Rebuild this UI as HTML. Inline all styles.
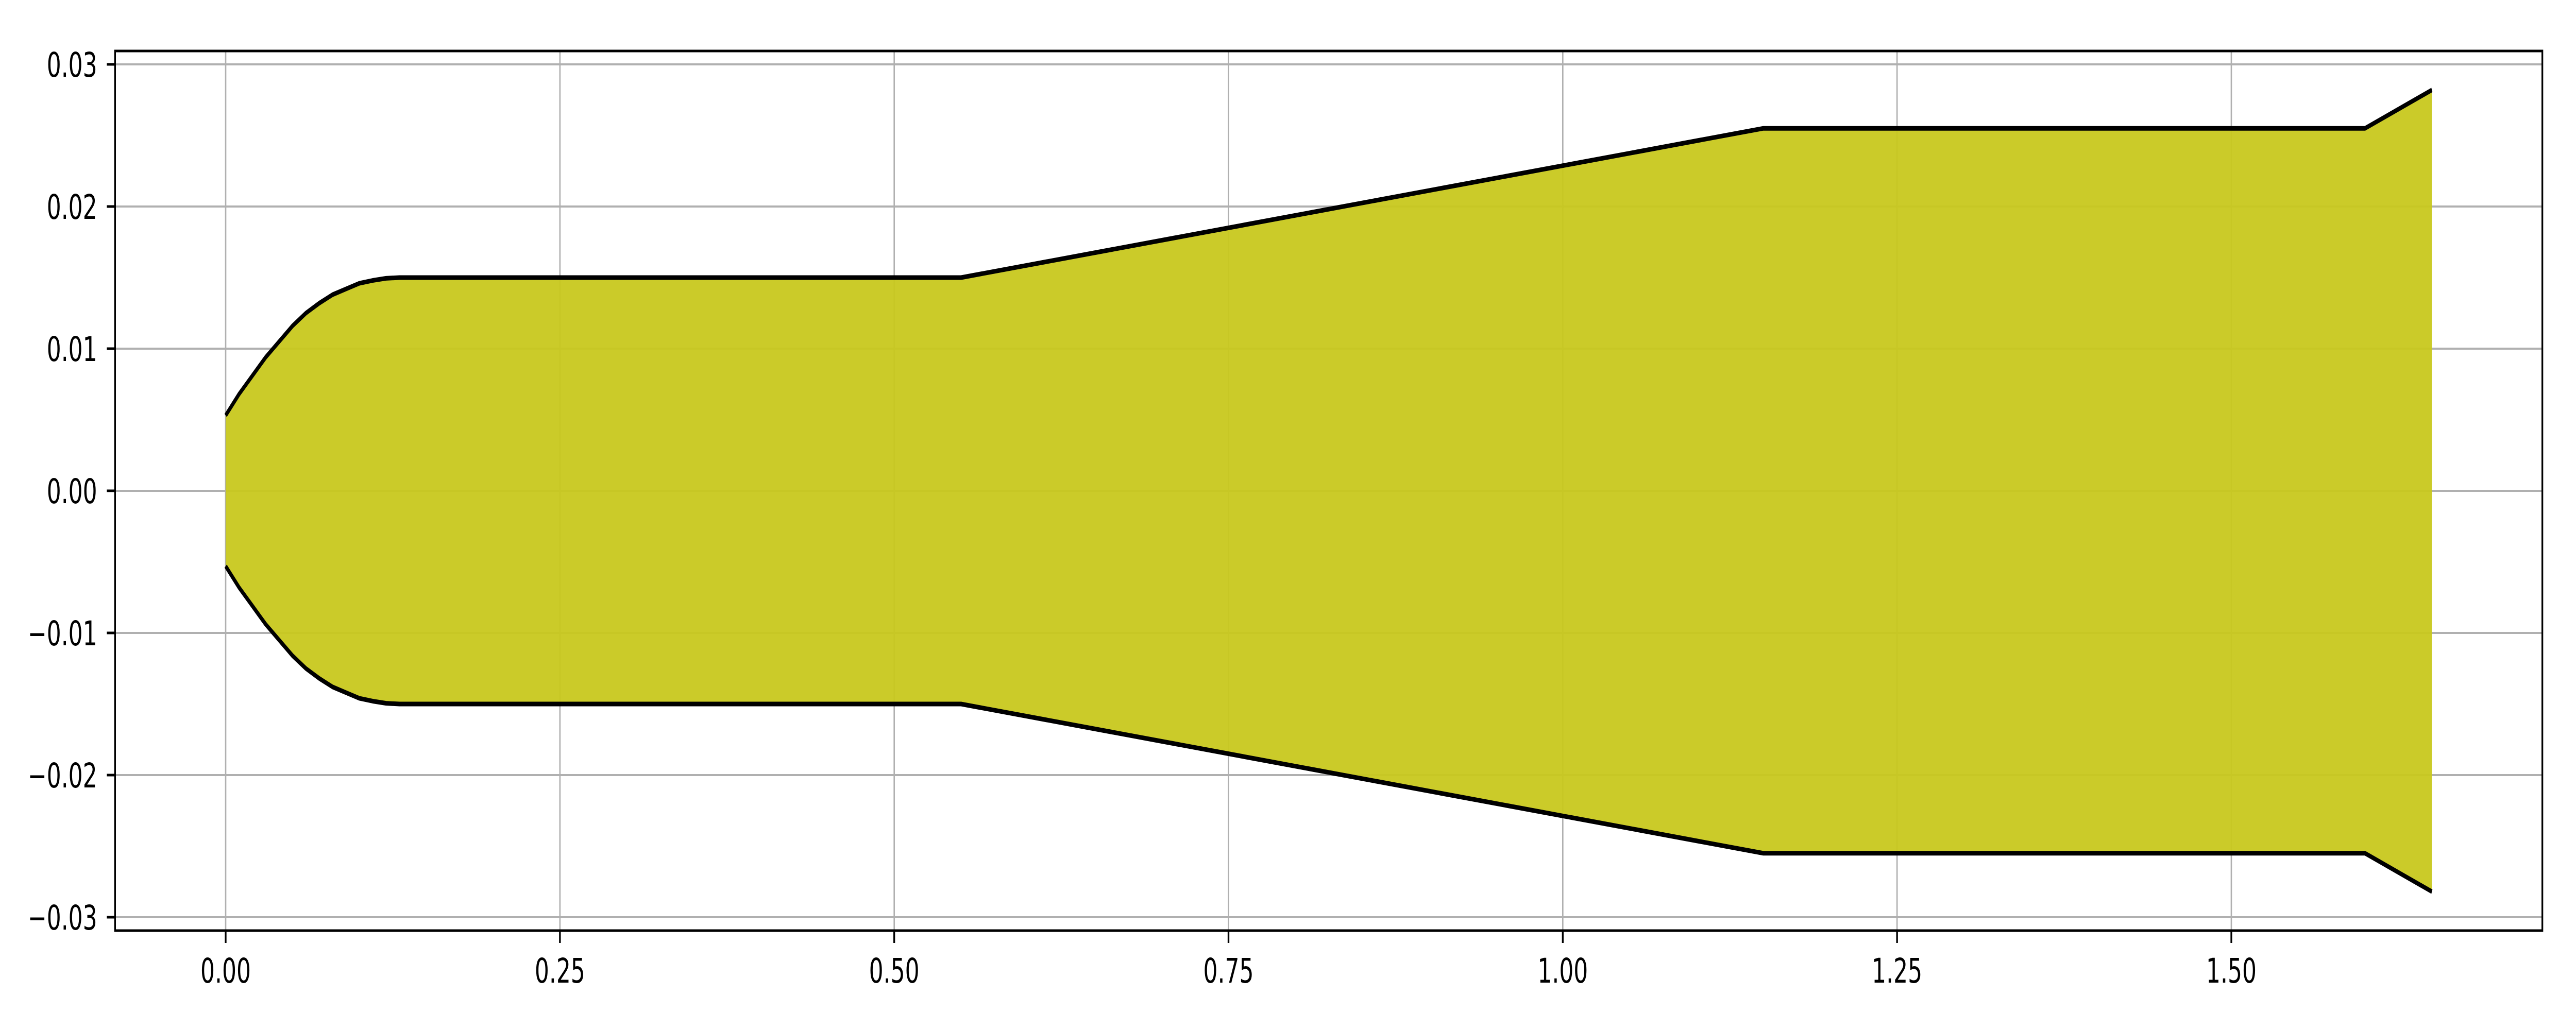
<!DOCTYPE html>
<html><head><meta charset="utf-8">
<style>
html,body{margin:0;padding:0;background:#fff;overflow:hidden;width:100%;height:100%;}
svg{display:block;width:100vw;height:100vh;font-family:"DejaVu Sans","Liberation Sans",sans-serif;}
</style></head>
<body>
<svg id="chart" viewBox="0 0 7500 2000" preserveAspectRatio="none" xmlns="http://www.w3.org/2000/svg"></svg>
<script>
const xs = [0, 0.01, 0.02, 0.03, 0.04, 0.05, 0.06, 0.07, 0.08, 0.09, 0.10, 0.11, 0.12, 0.13, 0.14, 0.55, 1.15, 1.6, 1.65];
const radius = [0.0053, 0.0068, 0.0081, 0.0094, 0.0105, 0.0116, 0.0125, 0.0132, 0.0138, 0.0142, 0.0146, 0.0148, 0.01495, 0.0150, 0.0150, 0.0150, 0.0255, 0.0255, 0.0282];
const xTicks = [0, 0.25, 0.5, 0.75, 1.0, 1.25, 1.5];
const xTickLabels = ["0.00", "0.25", "0.50", "0.75", "1.00", "1.25", "1.50"];
const yTicks = [0.03, 0.02, 0.01, 0, -0.01, -0.02, -0.03];
const yTickLabels = ["0.03", "0.02", "0.01", "0.00", "\u22120.01", "\u22120.02", "\u22120.03"];

const NS = "http://www.w3.org/2000/svg";
const svg = document.getElementById("chart");
const L = 335, R = 7402, T = 99, B = 1807;
const sx = v => 657 + v * 3893;
const sy = v => 953 - v * 27600;
function mk(tag, attrs, parent) {
  const e = document.createElementNS(NS, tag);
  for (const k in attrs) e.setAttribute(k, attrs[k]);
  (parent || svg).appendChild(e);
  return e;
}
const grid = mk("g", {});


xTicks.forEach(v => mk("line", {x1: sx(v), x2: sx(v), y1: T, y2: B, stroke: "#b0b0b0", "stroke-width": 4}, grid));
yTicks.forEach(v => mk("line", {x1: L, x2: R, y1: sy(v), y2: sy(v), stroke: "#b0b0b0", "stroke-width": 4}, grid));
let pts = xs.map((x, i) => sx(x) + "," + sy(radius[i]));
let lowPts = xs.map((x, i) => sx(x) + "," + sy(-radius[i]));
const fill = mk("polygon", {points: pts.concat(lowPts.slice().reverse()).join(" "), fill: "#c8c81e", "fill-opacity": 0.95});


const up = mk("polyline", {points: pts.join(" "), fill: "none", stroke: "#000", "stroke-width": 9, "stroke-linejoin": "round"});


const lo = mk("polyline", {points: lowPts.join(" "), fill: "none", stroke: "#000", "stroke-width": 9, "stroke-linejoin": "round"});


const frame = mk("rect", {x: L, y: T, width: R - L, height: B - T, fill: "none", stroke: "#000", "stroke-width": 5});


xTicks.forEach((v, i) => {
  mk("line", {x1: sx(v), x2: sx(v), y1: B, y2: B + 24, stroke: "#000", "stroke-width": 5});
  const t = mk("text", {x: sx(v), y: 1908, "font-size": 66, "text-anchor": "middle", fill: "#000"});
  t.textContent = xTickLabels[i];
  
  
});
yTicks.forEach((v, i) => {
  mk("line", {x1: L - 24, x2: L, y1: sy(v), y2: sy(v), stroke: "#000", "stroke-width": 5});
  const t = mk("text", {x: 283, y: sy(v) + 24, "font-size": 66, "text-anchor": "end", fill: "#000"});
  t.textContent = yTickLabels[i];
  
  
});
</script>
</body></html>
